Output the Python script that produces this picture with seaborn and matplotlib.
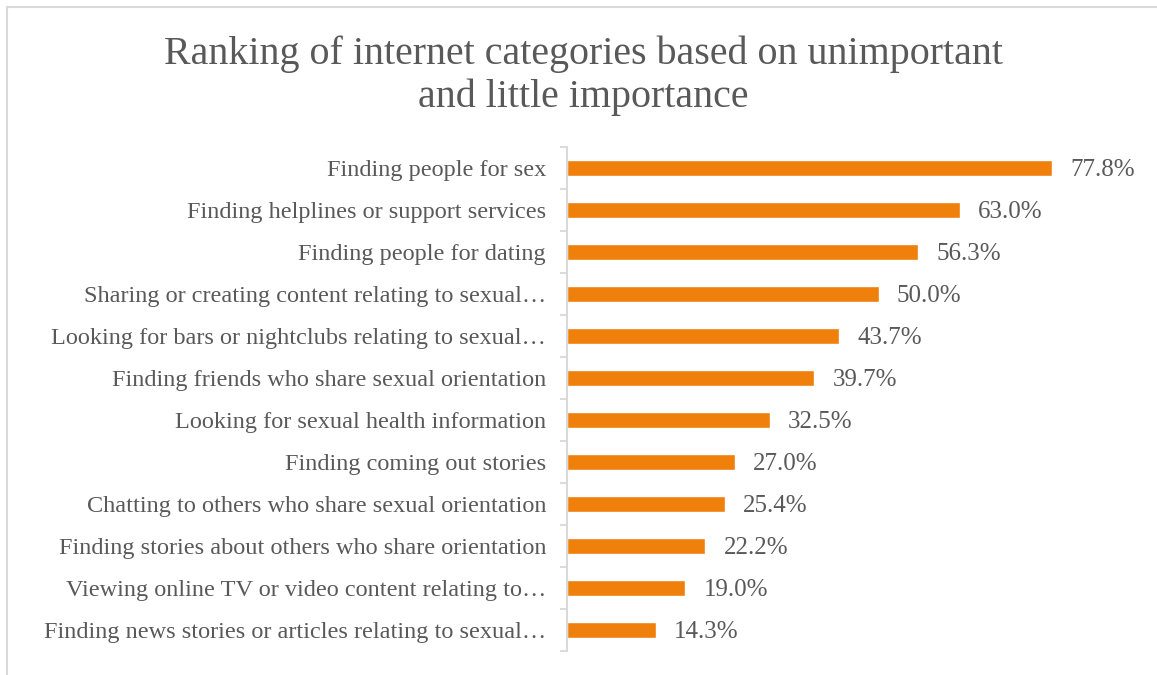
import matplotlib
matplotlib.use("Agg")
import matplotlib.pyplot as plt
from matplotlib.lines import Line2D
import seaborn as sns
import pandas as pd

categories = [
    "Finding people for sex",
    "Finding helplines or support services",
    "Finding people for dating",
    "Sharing or creating content relating to sexual…",
    "Looking for bars or nightclubs relating to sexual…",
    "Finding friends who share sexual orientation",
    "Looking for sexual health information",
    "Finding coming out stories",
    "Chatting to others who share sexual orientation",
    "Finding stories about others who share orientation",
    "Viewing online TV or video content relating to…",
    "Finding news stories or articles relating to sexual…",
]
values = [77.8, 63.0, 56.3, 50.0, 43.7, 39.7, 32.5, 27.0, 25.4, 22.2, 19.0, 14.3]
title = "Ranking of internet categories based on unimportant\nand little importance"

df = pd.DataFrame({"category": categories, "value": values})

sns.set_theme(style="white")
plt.rcParams["font.family"] = ["Liberation Serif", "DejaVu Serif"]

text_color = "#595959"
bar_color = "#F0800C"
grid_gray = "#D9D9D9"

fig = plt.figure(figsize=(11.57, 6.75), dpi=100)
ax = fig.add_axes([0.490, 0.0356, 0.485, 0.7467])

sns.barplot(data=df, x="value", y="category", order=categories,
            color=bar_color, saturation=1, width=0.36, ax=ax)

ax.set_xlim(0, 90)
ax.set_ylim(len(categories) - 0.5, -0.5)
ax.set_xlabel("")
ax.set_ylabel("")
ax.set_xticks([])

ax.set_yticks(range(len(categories)))
ax.set_yticklabels(categories, fontsize=17.5, color=text_color)
ax.tick_params(axis="y", which="major", left=True, length=0, pad=15)
ax.set_yticks([i - 0.5 for i in range(len(categories) + 1)], minor=True)
ax.tick_params(axis="y", which="minor", left=True, length=5, width=1.3,
               color=grid_gray, direction="out")

for side in ["top", "right", "bottom"]:
    ax.spines[side].set_visible(False)
ax.spines["left"].set_color(grid_gray)
ax.spines["left"].set_linewidth(1.5)

value_texts = ax.bar_label(ax.containers[0], labels=[f"{v:.1f}%" for v in values],
                           padding=13, fontsize=18, color=text_color)
for t in value_texts:
    t.set_va("center_baseline")

fig.text(0.504, 0.8876, title, ha="center", va="center", fontsize=28.8,
         color=text_color, linespacing=1.2)

# chart frame edges
fig.add_artist(Line2D([7 / 1157, 1], [1 - 7 / 675, 1 - 7 / 675],
                      transform=fig.transFigure, color=grid_gray, lw=1.5))
fig.add_artist(Line2D([7 / 1157, 7 / 1157], [0, 1 - 7 / 675],
                      transform=fig.transFigure, color=grid_gray, lw=1.5))

fig.savefig("out.png", dpi=100)
